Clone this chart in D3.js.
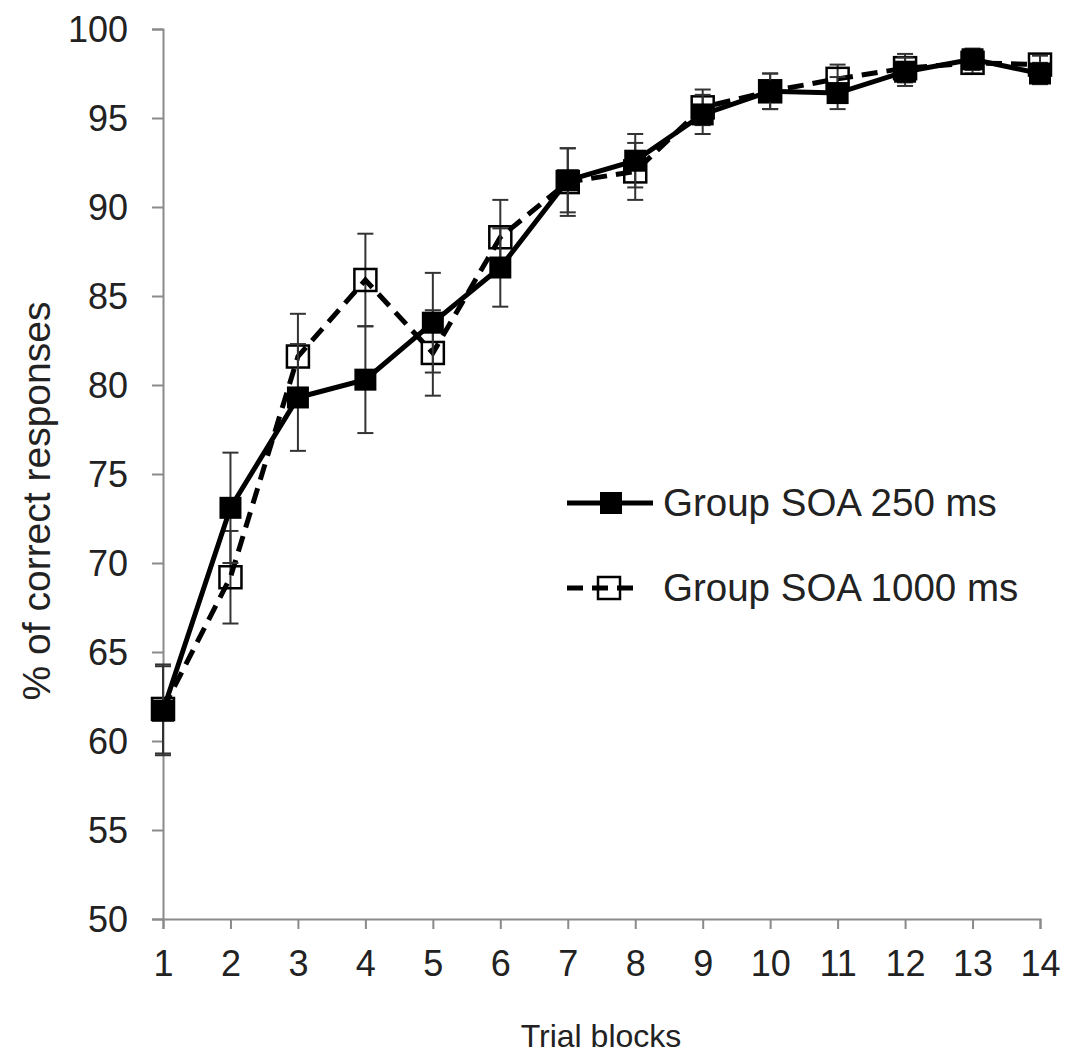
<!DOCTYPE html>
<html>
<head>
<meta charset="utf-8">
<script src="https://cdn.jsdelivr.net/npm/d3@7"></script>
<style>
  html, body { margin: 0; padding: 0; background: #fff; }
  svg { display: block; }
  text { font-family: "Liberation Sans", Arial, sans-serif; fill: #222; }
</style>
</head>
<body>
<svg id="chart" width="1067" height="1056"></svg>
<script>
// ---- data ----
const blocks = [1, 2, 3, 4, 5, 6, 7, 8, 9, 10, 11, 12, 13, 14];
const soa250 = [61.7, 73.1, 79.3, 80.3, 83.5, 86.6, 91.5, 92.6, 95.2, 96.5, 96.4, 97.6, 98.3, 97.5];
const soa250Err = [2.5, 3.1, 3.0, 3.0, 2.8, 2.2, 1.8, 1.5, 1.1, 1.0, 0.9, 0.8, 0.6, 0.6];
const soa1000 = [61.8, 69.2, 81.6, 85.9, 81.8, 88.3, 91.4, 92.0, 95.6, 96.5, 97.2, 97.8, 98.1, 98.0];
const soa1000Err = [2.5, 2.6, 2.4, 2.6, 2.4, 2.1, 1.9, 1.6, 1.0, 1.0, 0.8, 0.8, 0.6, 0.5];
const yTicks = [50, 55, 60, 65, 70, 75, 80, 85, 90, 95, 100];
const seriesNames = ["Group SOA 250 ms", "Group SOA 1000 ms"];
const xTitle = "Trial blocks";
const yTitle = "% of correct responses";

// ---- layout ----
const svg = d3.select("#chart");
const x = d3.scaleLinear().domain([1, 14]).range([163, 1040]);
const y = d3.scaleLinear().domain([50, 100]).range([919, 29]);
const axisColor = "#8a8a8a";

// axes
const gx = svg.append("g").attr("transform", `translate(0,${y(50)})`)
  .call(d3.axisBottom(x).tickValues(blocks).tickFormat(d3.format("d")).tickSize(10).tickPadding(21));
const gy = svg.append("g").attr("transform", `translate(${x(1)},0)`)
  .call(d3.axisLeft(y).tickValues(yTicks).tickSize(11).tickPadding(24));
[gx, gy].forEach(g => {
  g.select(".domain").attr("stroke", axisColor).attr("stroke-width", 2);
  g.selectAll(".tick line").attr("stroke", axisColor).attr("stroke-width", 2);
  g.selectAll(".tick text").style("font-family", '"Liberation Sans", Arial, sans-serif')
    .style("font-size", "36px").attr("fill", "#222");
});
gy.selectAll(".tick text").attr("dy", "0.36em");
gx.selectAll(".tick text").attr("dy", "0.71em");

// titles
svg.append("text").attr("x", 601).attr("y", 1047).attr("text-anchor", "middle")
  .style("font-size", "32px").text(xTitle);
svg.append("text").attr("transform", `translate(50,501) rotate(-90)`).attr("text-anchor", "middle")
  .style("font-size", "39px").text(yTitle);

const line = d3.line().x((d, i) => x(blocks[i])).y(d => y(d));
const plot = svg.append("g");

function errorBars(vals, errs) {
  const g = plot.append("g").attr("stroke", "#333").attr("stroke-width", 2).attr("fill", "none");
  vals.forEach((v, i) => {
    const cx = x(blocks[i]);
    g.append("line").attr("x1", cx).attr("x2", cx).attr("y1", y(v + errs[i])).attr("y2", y(v - errs[i]));
    [v + errs[i], v - errs[i]].forEach(e => {
      g.append("line").attr("x1", cx - 8).attr("x2", cx + 8).attr("y1", y(e)).attr("y2", y(e));
    });
  });
}

const sq = 22;
// dashed series (1000 ms)
errorBars(soa1000, soa1000Err);
plot.append("path").datum(soa1000).attr("d", line).attr("fill", "none")
  .attr("stroke", "#000").attr("stroke-width", 5).attr("stroke-dasharray", "16,9");
plot.append("g").selectAll("rect").data(soa1000).join("rect")
  .attr("x", (d, i) => x(blocks[i]) - sq / 2).attr("y", d => y(d) - sq / 2)
  .attr("width", sq).attr("height", sq).attr("fill", "none").attr("stroke", "#000").attr("stroke-width", 2.5);

// solid series (250 ms)
errorBars(soa250, soa250Err);
plot.append("path").datum(soa250).attr("d", line).attr("fill", "none")
  .attr("stroke", "#000").attr("stroke-width", 5);
plot.append("g").selectAll("rect").data(soa250).join("rect")
  .attr("x", (d, i) => x(blocks[i]) - sq / 2).attr("y", d => y(d) - sq / 2)
  .attr("width", sq).attr("height", sq).attr("fill", "#000");

// legend
const leg = svg.append("g");
const legY = [503, 588];
leg.append("line").attr("x1", 567).attr("x2", 653).attr("y1", legY[0]).attr("y2", legY[0])
  .attr("stroke", "#000").attr("stroke-width", 5);
leg.append("rect").attr("x", 611 - 11).attr("y", legY[0] - 11).attr("width", 22).attr("height", 22).attr("fill", "#000");
leg.append("line").attr("x1", 567).attr("x2", 642).attr("y1", legY[1]).attr("y2", legY[1])
  .attr("stroke", "#000").attr("stroke-width", 5).attr("stroke-dasharray", "16,9");
leg.append("rect").attr("x", 609 - 11).attr("y", legY[1] - 11).attr("width", 22).attr("height", 22)
  .attr("fill", "none").attr("stroke", "#000").attr("stroke-width", 2.5);
seriesNames.forEach((n, i) => {
  leg.append("text").attr("x", 663).attr("y", legY[i] + 13).style("font-size", "38.5px").text(n);
});
</script>
</body>
</html>
